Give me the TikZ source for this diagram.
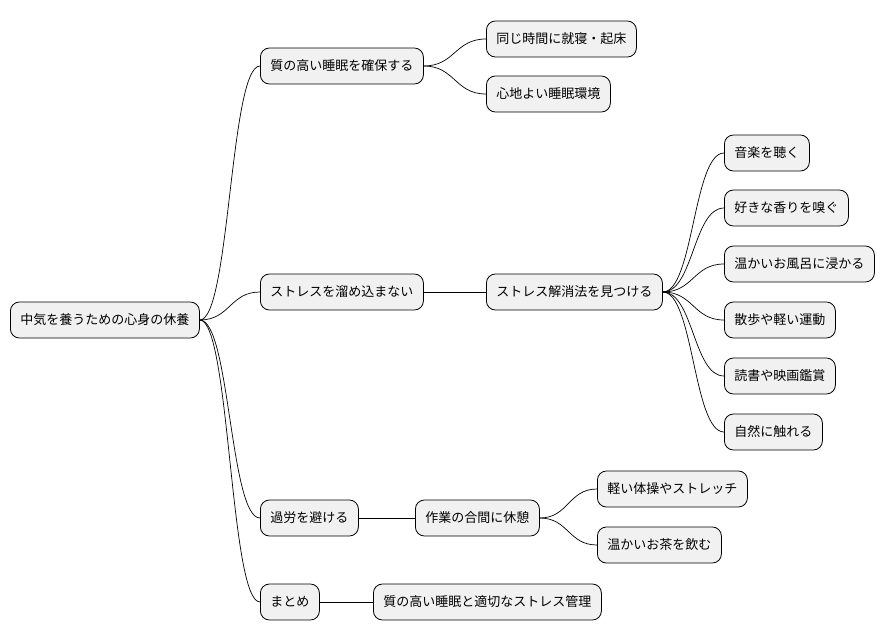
\documentclass[tikz,border=0pt]{standalone}
\usepackage{fontspec}
\setmainfont{Noto Sans CJK JP}
\usetikzlibrary{calc}
\begin{document}
\begin{tikzpicture}[x=1pt,y=-1pt,
  n/.style={draw=black,line width=0.8pt,fill={rgb,255:red,241;green,241;blue,241},rounded corners=9pt,minimum height=36pt,inner xsep=10pt,anchor=west,font=\fontsize{13}{15}\selectfont},
  c/.style={line width=0.7pt}]
\useasboundingbox (0,0) rectangle (894,640);
\node[n] (r) at (10,320) {中気を養うための心身の休養};
\node[n] (a) at (260,66) {質の高い睡眠を確保する};
\node[n] (a1) at (486,39) {同じ時間に就寝・起床};
\node[n] (a2) at (486,94) {心地よい睡眠環境};
\node[n] (b) at (260,292) {ストレスを溜め込まない};
\node[n] (b1) at (486,292) {ストレス解消法を見つける};
\node[n] (l1) at (724,153) {音楽を聴く};
\node[n] (l2) at (724,208) {好きな香りを嗅ぐ};
\node[n] (l3) at (724,264) {温かいお風呂に浸かる};
\node[n] (l4) at (724,320) {散歩や軽い運動};
\node[n] (l5) at (724,376) {読書や映画鑑賞};
\node[n] (l6) at (724,432) {自然に触れる};
\node[n] (c) at (260,518) {過労を避ける};
\node[n] (c1) at (415,518) {作業の合間に休憩};
\node[n] (c11) at (597,489) {軽い体操やストレッチ};
\node[n] (c12) at (597,545) {温かいお茶を飲む};
\node[n] (d) at (260,602) {まとめ};
\node[n] (d1) at (373,602) {質の高い睡眠と適切なストレス管理};
\foreach \s/\t in {r/a,r/b,r/c,r/d,a/a1,a/a2,b/b1,b1/l1,b1/l2,b1/l3,b1/l4,b1/l5,b1/l6,c/c1,c1/c11,c1/c12,d/d1}{
  \coordinate (m) at ($(\s.east)!0.5!(\t.west)$);
  \draw[c] (\s.east) .. controls (m |- \s.east) and (m |- \t.west) .. (\t.west);
}
\end{tikzpicture}
\end{document}
